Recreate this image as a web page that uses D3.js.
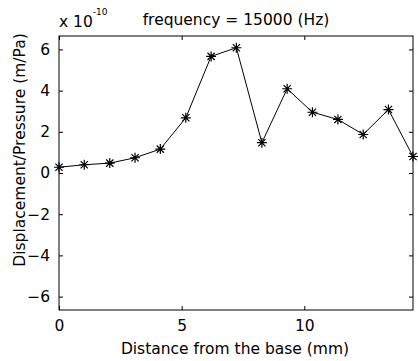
<!DOCTYPE html>
<html><head><meta charset="utf-8">
<script src="https://cdn.jsdelivr.net/npm/d3@7"></script>
<style>body{margin:0;background:#fff}text{font-family:"DejaVu Sans",sans-serif;fill:#000}</style>
</head><body><svg id="c" width="418" height="361"></svg>
<script>
const distance = [0, 1.03, 2.07, 3.1, 4.13, 5.17, 6.2, 7.23, 8.27, 9.3, 10.33, 11.37, 12.4, 13.43, 14.43];
const response = [0.28, 0.40, 0.48, 0.74, 1.16, 2.68, 5.66, 6.08, 1.47, 4.09, 2.95, 2.60, 1.87, 3.08, 0.80];
const xTicks = [0, 5, 10];
const yTicks = [-6, -4, -2, 0, 2, 4, 6];
const title = "frequency = 15000 (Hz)";
const xLabel = "Distance from the base (mm)";
const yLabel = "Displacement/Pressure (m/Pa)";

const L = 59, R = 413, T = 36, B = 310;
const svg = d3.select("#c");
const x = d3.scaleLinear().domain([0, 14.43]).range([L, R]);
const y = d3.scaleLinear().domain([-6.65, 6.65]).range([B, T]);
const fs = 15.5, tl = 4;

const g = svg.append("g");
g.append("rect").attr("x", L).attr("y", T).attr("width", R - L).attr("height", B - T)
  .attr("fill", "#fff").attr("stroke", "#000").attr("stroke-width", 1);

// axes
const xb = g.append("g").attr("transform", `translate(0,${B})`)
  .call(d3.axisBottom(x).tickValues(xTicks).tickSize(-tl).tickPadding(tl + 6).tickFormat(d3.format("d")));
const xt = g.append("g").attr("transform", `translate(0,${T})`)
  .call(d3.axisTop(x).tickValues(xTicks).tickSize(-tl).tickFormat(""));
const yl = g.append("g").attr("transform", `translate(${L},0)`)
  .call(d3.axisLeft(y).tickValues(yTicks).tickSize(-tl).tickPadding(tl + 5).tickFormat(d3.format("d")));
const yr = g.append("g").attr("transform", `translate(${R},0)`)
  .call(d3.axisRight(y).tickValues(yTicks).tickSize(-tl).tickFormat(""));
[xb, xt, yl, yr].forEach(a => {
  a.select(".domain").remove();
  a.selectAll("line").attr("stroke", "#000");
  a.selectAll("text").attr("font-size", fs).attr("font-family", null).attr("fill", "#000");
});

// line
g.append("path").datum(distance.map((d, i) => [d, response[i]]))
  .attr("fill", "none").attr("stroke", "#000").attr("stroke-width", 1)
  .attr("d", d3.line().x(d => x(d[0])).y(d => y(d[1])));

// asterisk markers
const s = 5, s2 = 3.6;
const mk = g.append("g").selectAll("g").data(distance.map((d, i) => [d, response[i]])).join("g")
  .attr("transform", d => `translate(${x(d[0])},${y(d[1])})`);
mk.append("path").attr("stroke", "#000").attr("stroke-width", 1.2).attr("fill", "none")
  .attr("d", `M${-s},0H${s}M0,${-s}V${s}M${-s2},${-s2}L${s2},${s2}M${-s2},${s2}L${s2},${-s2}`);

// texts
svg.append("text").attr("x", 236).attr("y", 25).attr("text-anchor", "middle").attr("font-size", fs).text(title);
const ex = svg.append("text").attr("x", 59).attr("y", 27).attr("font-size", fs);
ex.append("tspan").text("x 10");
ex.append("tspan").attr("dy", -12).attr("font-size", 9).text("-10");
svg.append("text").attr("x", 235).attr("y", 354).attr("text-anchor", "middle").attr("font-size", fs).text(xLabel);
svg.append("text").attr("transform", "translate(25,150) rotate(-90)").attr("text-anchor", "middle").attr("font-size", fs).text(yLabel);
</script></body></html>
